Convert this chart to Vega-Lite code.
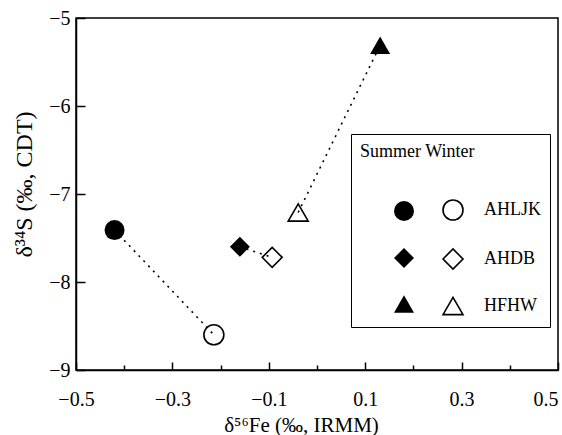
{
  "$schema": "https://vega.github.io/schema/vega-lite/v6.json",
  "width": 482,
  "height": 352,
  "autosize": "none",
  "padding": {"left": 76, "top": 18, "right": 4, "bottom": 65},
  "background": "white",
  "config": {
    "font": "Liberation Serif",
    "view": {"stroke": "black", "strokeWidth": 1.5},
    "axis": {
      "labelFont": "Liberation Serif",
      "titleFont": "Liberation Serif",
      "labelFontSize": 20,
      "titleFontSize": 20,
      "titleFontWeight": "normal",
      "labelColor": "black",
      "titleColor": "black",
      "tickColor": "black",
      "domainColor": "black",
      "domainWidth": 1.5,
      "tickWidth": 1.5,
      "grid": false,
      "labelFlush": false,
      "labelOverlap": false
    },
    "legend": {
      "labelFont": "Liberation Serif",
      "titleFont": "Liberation Serif",
      "labelFontSize": 18,
      "titleFontSize": 18,
      "titleFontWeight": "normal",
      "labelColor": "black",
      "titleColor": "black"
    }
  },
  "data": {
    "values": [
      {"site": "AHLJK", "season": "Summer", "fe": -0.42, "s": -7.41},
      {"site": "AHLJK", "season": "Winter", "fe": -0.214, "s": -8.6},
      {"site": "AHDB", "season": "Summer", "fe": -0.16, "s": -7.6},
      {"site": "AHDB", "season": "Winter", "fe": -0.093, "s": -7.72},
      {"site": "HFHW", "season": "Summer", "fe": 0.131, "s": -5.31},
      {"site": "HFHW", "season": "Winter", "fe": -0.039, "s": -7.21}
    ]
  },
  "encoding": {
    "x": {
      "field": "fe",
      "type": "quantitative",
      "scale": {"domain": [-0.5, 0.5], "nice": false, "zero": false},
      "axis": {
        "values": [-0.5, -0.4, -0.3, -0.2, -0.1, 0, 0.1, 0.2, 0.3, 0.4, 0.5],
        "format": ".1f",
        "labelExpr": "abs(round(datum.value*10)) % 2 == 1 ? datum.label : ''",
        "labelAlign": {"condition": {"test": "datum.value > 0.45", "value": "right"}, "value": "center"},
        "tickSize": {"condition": {"test": "abs(round(datum.value*10)) % 2 == 1", "value": -8}, "value": -5},
        "labelPadding": 27,
        "title": "δ⁵⁶Fe (‰, IRMM)",
        "titleFontSize": 21,
        "titleX": 225,
        "titleY": 55,
        "titleBaseline": "middle"
      }
    },
    "y": {
      "field": "s",
      "type": "quantitative",
      "scale": {"domain": [-9, -5], "nice": false, "zero": false},
      "axis": {
        "values": [-9, -8, -7, -6, -5],
        "format": "d",
        "tickSize": -9,
        "labelPadding": 15,
        "title": "δ³⁴S (‰, CDT)",
        "titleFontSize": 24,
        "titleX": -52,
        "titleY": 166,
        "titleBaseline": "middle"
      }
    }
  },
  "layer": [
    {
      "mark": {"type": "line", "color": "black", "strokeWidth": 1.6, "strokeDash": [2, 5]},
      "encoding": {"detail": {"field": "site"}}
    },
    {
      "transform": [{"filter": "datum.season == 'Summer'"}],
      "mark": {"type": "point", "filled": true, "color": "black", "size": 400, "opacity": 1},
      "encoding": {
        "shape": {
          "field": "site",
          "type": "nominal",
          "scale": {"domain": ["AHLJK", "AHDB", "HFHW"], "range": ["circle", "diamond", "triangle-up"]},
          "legend": {
            "title": null,
            "orient": "none",
            "direction": "vertical",
            "legendX": 317,
            "legendY": 182,
            "padding": 0,
            "labelExpr": "''",
            "rowPadding": 21,
            "symbolSize": 400,
            "symbolFillColor": "black",
            "symbolStrokeColor": "black"
          }
        }
      }
    },
    {
      "transform": [{"filter": "datum.season == 'Winter'"}],
      "mark": {"type": "point", "filled": false, "color": "black", "size": 400, "strokeWidth": 1.6, "opacity": 1},
      "encoding": {
        "shape": {
          "field": "site",
          "type": "nominal",
          "scale": {"domain": ["AHLJK", "AHDB", "HFHW"], "range": ["circle", "diamond", "triangle-up"]},
          "legend": {
            "title": "Summer Winter",
            "orient": "none",
            "direction": "vertical",
            "legendX": 275,
            "legendY": 116,
            "padding": 9,
            "strokeColor": "black",
            "titleAnchor": "start",
            "titlePadding": 38,
            "rowPadding": 21,
            "symbolOffset": 82,
            "labelOffset": 20,
            "symbolSize": 400,
            "symbolStrokeWidth": 1.6,
            "symbolStrokeColor": "black"
          }
        }
      }
    }
  ],
  "resolve": {"scale": {"shape": "independent"}, "legend": {"shape": "independent"}}
}
